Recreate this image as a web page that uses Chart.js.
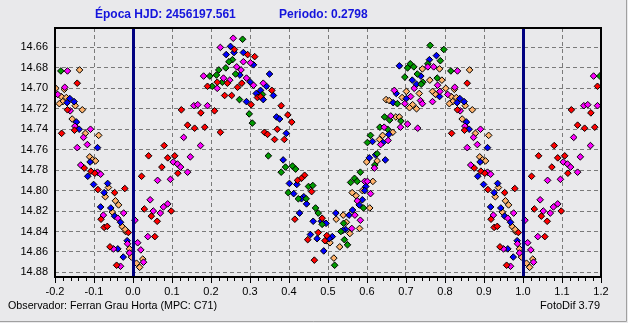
<!DOCTYPE html>
<html>
<head>
<meta charset="utf-8">
<title>FotoDif - curva de fase</title>
<script src="https://cdn.jsdelivr.net/npm/chart.js@4.4.1/dist/chart.umd.min.js"></script>
<style>
  html, body { margin: 0; padding: 0; background: #e9e9eb; }
  #wrap { width: 628px; height: 323px; position: relative; }
</style>
</head>
<body>
<div id="wrap"><canvas id="chart-phase" width="628" height="323"></canvas></div>
<script>
// Ejes
const xTicks = [-0.2, -0.1, 0.0, 0.1, 0.2, 0.3, 0.4, 0.5, 0.6, 0.7, 0.8, 0.9, 1.0, 1.1, 1.2];
const yTicks = [14.66, 14.68, 14.70, 14.72, 14.74, 14.76, 14.78, 14.80, 14.82, 14.84, 14.86, 14.88];
const epochLines = [0, 1];

const tituloEpoca = 'Época HJD: 2456197.561';
const tituloPeriodo = 'Periodo: 0.2798';
const pieObservador = 'Observador: Ferran Grau Horta (MPC: C71)';
const pieVersion = 'FotoDif 3.79';

// Medidas por sesion: [fase, magnitud] (fase 0..1)
const rojo = [
  [0.216,14.694],[0.242,14.695],[0.191,14.698],[0.235,14.707],[0.124,14.721],[0.174,14.724],[0.209,14.722],
  [0.140,14.736],[0.158,14.739],[0.184,14.738],[0.224,14.743],[0.080,14.756],[0.040,14.766],[0.089,14.768],
  [0.107,14.766],[0.074,14.777],[0.115,14.783],[0.022,14.786],[0.029,14.818],[0.098,14.820],[0.047,14.825],
  [0.062,14.830],[0.056,14.845],
  [0.260,14.662],[0.294,14.667],[0.312,14.669],[0.279,14.695],[0.268,14.699],[0.356,14.702],[0.253,14.707],
  [0.319,14.709],[0.327,14.708],[0.303,14.716],[0.380,14.717],[0.397,14.726],[0.407,14.733],[0.370,14.740],
  [0.337,14.743],[0.345,14.745],[0.363,14.750],[0.388,14.750],[0.440,14.785],[0.432,14.788],[0.422,14.790],
  [0.458,14.801],[0.485,14.827],[0.415,14.828],[0.475,14.841],[0.448,14.848],[0.492,14.849],[0.465,14.868],
  [0.497,14.844],
  [0.857,14.695],[0.832,14.721],[0.850,14.741],[0.817,14.744],[0.875,14.778],[0.892,14.781],[0.902,14.783],
  [0.910,14.799],[0.979,14.798],[0.953,14.802],[0.918,14.828],[0.926,14.836],[0.934,14.835],[0.988,14.841],
  [0.941,14.855],[0.958,14.873]
];
const magenta = [
  [0.224,14.660],[0.181,14.688],[0.232,14.690],[0.216,14.700],[0.156,14.717],[0.166,14.716],[0.191,14.717],
  [0.130,14.748],[0.173,14.756],[0.147,14.767],[0.103,14.772],[0.114,14.774],[0.122,14.777],[0.140,14.782],
  [0.063,14.790],[0.096,14.789],[0.044,14.809],[0.089,14.813],[0.078,14.816],[0.052,14.820],[0.070,14.822],
  [0.005,14.829],[0.038,14.845],[0.012,14.851],[0.020,14.858],[0.027,14.870],
  [0.257,14.651],[0.266,14.679],[0.283,14.674],[0.301,14.675],[0.277,14.682],[0.291,14.690],[0.248,14.692],
  [0.309,14.697],[0.334,14.695],
  [0.670,14.702],[0.721,14.700],[0.712,14.708],[0.697,14.715],[0.737,14.712],[0.742,14.715],[0.661,14.727],
  [0.704,14.735],[0.686,14.738],[0.730,14.739],[0.644,14.738],[0.654,14.751],[0.635,14.755],[0.619,14.778],
  [0.594,14.791],[0.601,14.791],[0.609,14.803],[0.575,14.810],[0.569,14.824],[0.583,14.829],[0.561,14.837],
  [0.756,14.679],[0.771,14.679],[0.832,14.683],[0.781,14.697],[0.825,14.699],[0.787,14.703],[0.807,14.706],
  [0.768,14.713],[0.839,14.722],[0.851,14.737],[0.891,14.740],[0.873,14.748],[0.883,14.755],[0.857,14.758],
  [0.866,14.775],[0.909,14.782],[0.917,14.784],[0.976,14.822],[0.924,14.824],[0.961,14.827],[0.986,14.852],
  [0.950,14.857],[0.991,14.861],[0.968,14.874]
];
const azul = [
  [0.239,14.667],
  [0.250,14.659],[0.259,14.665],[0.283,14.665],[0.309,14.677],[0.274,14.687],[0.350,14.686],[0.301,14.694],
  [0.342,14.698],[0.327,14.702],[0.316,14.705],[0.360,14.707],[0.334,14.711],[0.291,14.713],[0.368,14.728],
  [0.376,14.730],[0.393,14.744],[0.385,14.770],[0.401,14.793],[0.420,14.794],[0.412,14.803],[0.438,14.806],
  [0.432,14.808],[0.445,14.813],[0.427,14.822],[0.462,14.830],[0.483,14.830],[0.495,14.832],[0.455,14.843],
  [0.472,14.847],[0.489,14.859],
  [0.683,14.678],[0.738,14.688],[0.716,14.692],[0.727,14.696],[0.675,14.705],[0.667,14.714],[0.701,14.710],
  [0.656,14.745],[0.614,14.752],[0.641,14.753],[0.622,14.765],[0.606,14.768],[0.647,14.770],[0.597,14.796],
  [0.594,14.800],[0.588,14.809],[0.580,14.814],[0.520,14.822],[0.563,14.819],[0.554,14.824],[0.545,14.838],
  [0.538,14.839],[0.511,14.845],[0.503,14.847],
  [0.778,14.668],[0.760,14.672],[0.786,14.708],[0.838,14.710],[0.831,14.714],[0.849,14.713],[0.855,14.733],
  [0.862,14.740],[0.909,14.758],[0.890,14.772],[0.884,14.786],[0.899,14.794],[0.935,14.793],[0.926,14.802],
  [0.917,14.816],[0.943,14.817],[0.953,14.825],[0.968,14.831],[0.985,14.849],[0.961,14.857],[0.975,14.865]
];
const verde = [
  [0.220,14.682],[0.238,14.680],[0.197,14.688],[0.214,14.687],[0.229,14.694],[0.203,14.698],
  [0.281,14.652],[0.255,14.672],[0.246,14.674],[0.263,14.686],[0.332,14.706],[0.273,14.711],[0.298,14.725],
  [0.306,14.734],[0.347,14.766],[0.391,14.777],[0.409,14.776],[0.417,14.779],[0.380,14.782],[0.450,14.796],
  [0.461,14.795],[0.398,14.802],[0.424,14.808],[0.444,14.808],[0.468,14.817],[0.475,14.822],[0.485,14.833],
  [0.711,14.676],[0.704,14.680],[0.720,14.679],[0.697,14.689],[0.729,14.686],[0.743,14.694],[0.739,14.696],
  [0.678,14.715],[0.645,14.728],[0.658,14.731],[0.687,14.732],[0.633,14.738],[0.653,14.740],[0.609,14.746],
  [0.601,14.753],[0.626,14.764],[0.620,14.775],[0.583,14.782],[0.568,14.788],[0.558,14.792],[0.575,14.791],
  [0.591,14.817],[0.540,14.832],[0.533,14.840],[0.542,14.848],[0.550,14.853],[0.517,14.873],
  [0.762,14.658],[0.797,14.662],[0.788,14.673],[0.756,14.676],[0.815,14.683],[0.780,14.690]
];
const naranja = [
  [0.025,14.867],[0.009,14.871],[0.017,14.875],
  [0.497,14.849],
  [0.742,14.681],[0.701,14.703],[0.734,14.705],[0.649,14.711],[0.657,14.712],[0.690,14.709],[0.717,14.716],
  [0.709,14.719],[0.727,14.720],[0.674,14.728],[0.683,14.728],[0.666,14.743],[0.640,14.746],[0.632,14.750],
  [0.599,14.772],[0.626,14.771],[0.615,14.791],[0.562,14.802],[0.572,14.805],[0.588,14.800],[0.607,14.817],
  [0.539,14.824],[0.521,14.828],[0.547,14.831],[0.556,14.842],[0.581,14.837],[0.505,14.851],[0.530,14.855],
  [0.515,14.866],
  [0.786,14.681],[0.863,14.682],[0.761,14.692],[0.792,14.692],[0.824,14.701],[0.768,14.703],[0.802,14.700],
  [0.776,14.706],[0.816,14.708],[0.829,14.709],[0.820,14.713],[0.811,14.715],[0.852,14.717],[0.870,14.721],
  [0.844,14.730],[0.878,14.744],[0.912,14.746],[0.889,14.767],[0.896,14.770],[0.904,14.771],[0.937,14.797],
  [0.929,14.806],[0.955,14.810],[0.963,14.814],[0.947,14.821],[0.972,14.835],[0.981,14.840],[0.980,14.838],
  [0.991,14.857],[0.996,14.865]
];

// repite la fase fuera de 0..1 como hace FotoDif (-0.2 .. 1.2)
function conCopias(pts) {
  const out = [];
  pts.forEach(([f, m]) => {
    out.push({ x: f, y: m });
    if (f >= 0.8) out.push({ x: f - 1, y: m });
    if (f <= 0.2) out.push({ x: f + 1, y: m });
  });
  return out;
}

function serie(label, pts, color) {
  return {
    label,
    data: conCopias(pts),
    pointStyle: 'rectRot',
    pointRadius: 3.3,
    pointBackgroundColor: color,
    pointBorderColor: '#000000',
    pointBorderWidth: 1,
    showLine: false
  };
}

const FONT = 'Liberation Sans, Arial, sans-serif';
const BG = '#e9e9eb';

const decoPlugin = {
  id: 'deco',
  beforeDraw(chart) {
    const ctx = chart.ctx;
    ctx.save();
    ctx.fillStyle = BG;
    ctx.fillRect(0, 0, chart.width, chart.height);
    ctx.restore();
  },
  afterDatasetsDraw(chart) {
    const ctx = chart.ctx;
    const a = chart.chartArea;
    const xs = chart.scales.x;
    ctx.save();
    // lineas de epoca
    ctx.strokeStyle = '#000080';
    ctx.lineWidth = 3;
    epochLines.forEach(v => {
      const px = Math.round(xs.getPixelForValue(v)) + 0.5;
      ctx.beginPath();
      ctx.moveTo(px, a.top);
      ctx.lineTo(px, a.bottom);
      ctx.stroke();
    });
    // marco
    ctx.strokeStyle = '#000000';
    ctx.lineWidth = 2;
    ctx.strokeRect(a.left, a.top, a.right - a.left, a.bottom - a.top);
    // marcas menores eje x
    ctx.lineWidth = 1;
    for (let i = -10; i <= 60; i++) {
      const px = Math.round(xs.getPixelForValue(i * 0.02)) + 0.5;
      ctx.beginPath();
      ctx.moveTo(px, a.bottom + 1);
      ctx.lineTo(px, a.bottom + (i % 5 === 0 ? 6 : 4));
      ctx.stroke();
    }
    // textos
    ctx.fillStyle = '#1414dc';
    ctx.font = 'bold 12px ' + FONT;
    ctx.textBaseline = 'middle';
    ctx.textAlign = 'left';
    ctx.fillText(tituloEpoca, 95, 15, 149);
    ctx.fillText(tituloPeriodo, 279, 15, 96);
    ctx.fillStyle = '#000000';
    ctx.font = '11px ' + FONT;
    ctx.fillText(pieObservador, 8, 306, 209);
    ctx.textAlign = 'right';
    ctx.fillText(pieVersion, 600, 306);
    // borde de la ventana
    ctx.strokeStyle = '#a0a0a0';
    ctx.beginPath();
    ctx.moveTo(626.5, 0);
    ctx.lineTo(626.5, 321.5);
    ctx.lineTo(0, 321.5);
    ctx.stroke();
    ctx.restore();
  }
};

new Chart(document.getElementById('chart-phase'), {
  type: 'scatter',
  data: {
    datasets: [
      serie('Sesion 1', rojo, '#ff0000'),
      serie('Sesion 2', magenta, '#ff00ff'),
      serie('Sesion 3', verde, '#009a00'),
      serie('Sesion 4', azul, '#0000ff'),
      serie('Sesion 5', naranja, '#ffb26b')
    ]
  },
  options: {
    responsive: false,
    devicePixelRatio: 1,
    animation: false,
    layout: { padding: { left: 0, top: 28, right: 27, bottom: 24 } },
    plugins: {
      legend: { display: false },
      tooltip: { enabled: false }
    },
    scales: {
      x: {
        type: 'linear',
        min: -0.2,
        max: 1.2,
        afterBuildTicks: (scale) => { scale.ticks = xTicks.map(v => ({ value: v })); },
        afterFit: (scale) => { scale.height = 22; },
        ticks: {
          color: '#000000',
          font: { family: FONT, size: 11 },
          padding: 8,
          maxRotation: 0,
          autoSkip: false,
          callback: (v) => Number(v).toFixed(1)
        },
        grid: { color: '#7a7a7a', lineWidth: 1, drawTicks: false },
        border: { display: false, dash: [4, 3] }
      },
      y: {
        type: 'linear',
        reverse: true,
        min: 14.641,
        max: 14.8845,
        afterBuildTicks: (scale) => { scale.ticks = yTicks.map(v => ({ value: v })); },
        afterFit: (scale) => { scale.width = 55; },
        ticks: {
          color: '#000000',
          font: { family: FONT, size: 11 },
          padding: 7,
          autoSkip: false,
          callback: (v) => Number(v).toFixed(2)
        },
        grid: { color: '#7a7a7a', lineWidth: 1, drawTicks: false },
        border: { display: false, dash: [4, 3] }
      }
    }
  },
  plugins: [decoPlugin]
});
</script>
</body>
</html>
